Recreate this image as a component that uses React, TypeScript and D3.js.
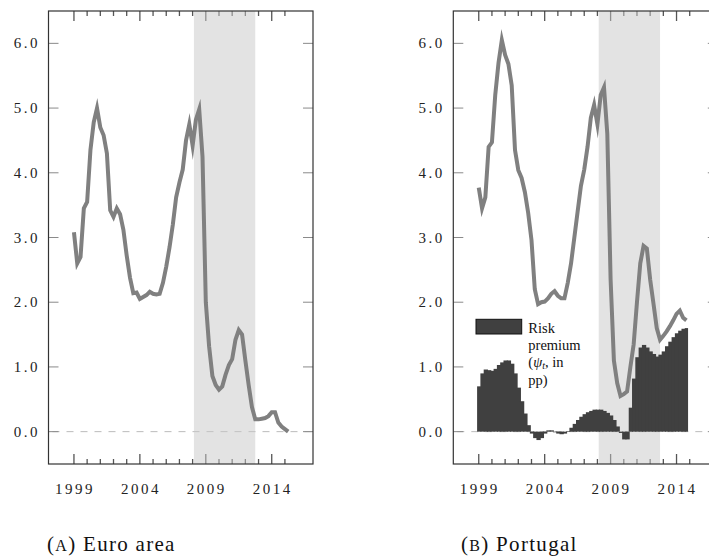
import React, { useEffect, useRef } from 'react';
import * as d3 from 'd3';

// quarterly values, first point is 1999Q1
const euroRate = [
  3.08, 2.6, 2.7, 3.45, 3.55, 4.35, 4.78, 5.0, 4.7, 4.58, 4.3, 3.42, 3.32, 3.45, 3.36, 3.12,
  2.72, 2.38, 2.14, 2.15, 2.05, 2.08, 2.11, 2.16, 2.13, 2.12, 2.13, 2.3, 2.55, 2.85, 3.2, 3.62,
  3.85, 4.05, 4.5, 4.75, 4.42, 4.82, 4.98, 4.25, 2.0, 1.32, 0.86, 0.72, 0.65, 0.7, 0.88, 1.03,
  1.12, 1.42, 1.57, 1.5, 1.1, 0.72, 0.38, 0.19, 0.19, 0.2, 0.21, 0.24, 0.3, 0.3, 0.14, 0.08,
  0.04, 0.0,
];

const portugalRate = [
  3.77, 3.45, 3.62, 4.4, 4.47, 5.2, 5.7, 6.05, 5.82, 5.68, 5.35, 4.35, 4.04, 3.92, 3.7, 3.38,
  2.96, 2.2, 1.97, 2.0, 2.01, 2.06, 2.13, 2.17, 2.1, 2.06, 2.06, 2.3, 2.6, 3.0, 3.4, 3.8,
  4.05, 4.4, 4.85, 5.05, 4.75, 5.2, 5.32, 4.6, 2.35, 1.1, 0.75, 0.55, 0.58, 0.62, 1.0, 1.35,
  2.0, 2.6, 2.87, 2.83, 2.35, 1.98, 1.6, 1.42, 1.48, 1.55, 1.63, 1.72, 1.82, 1.87, 1.76, 1.72,
];

const riskPremium = [
  0.7, 0.9, 0.96, 0.95, 0.94, 0.97, 1.03, 1.07, 1.1, 1.1, 1.05, 0.9, 0.68, 0.47, 0.28, 0.1,
  -0.03, -0.1, -0.13, -0.1, -0.03, 0.02, 0.02, -0.01, -0.03, -0.04, -0.03, 0.01, 0.06, 0.12, 0.18, 0.23,
  0.27, 0.3, 0.32, 0.34, 0.34, 0.34, 0.32, 0.29, 0.25, 0.18, 0.08, -0.02, -0.12, -0.12, 0.37, 0.82,
  1.15, 1.3, 1.34, 1.3, 1.24, 1.2, 1.16, 1.19, 1.24, 1.32, 1.39, 1.46, 1.52, 1.56, 1.59, 1.6,
];

const startYear = 1999;
const yTicks = [0, 1, 2, 3, 4, 5, 6];
const majorYears = [1999, 2004, 2009, 2014];
const minorYears = [2000, 2001, 2002, 2003, 2005, 2006, 2007, 2008, 2010, 2011, 2012, 2013, 2015];
const crisis = [2008.1, 2012.75];
const captions = ['Euro area', 'Portugal'];
const captionLetters = ['A', 'B'];

const width = 709;
const height = 558;
const frameW = 264.5;
const top = 11;
const bottom = 464;
const panelLefts = [48.5, 453.3];
const captionX = [47, 461];

const lineColor = '#808080';
const barColor = '#404040';
const tickFont = 'Liberation Serif, serif';

const App = () => {
  const ref = useRef(null);

  useEffect(() => {
    const svg = d3.select(ref.current);
    svg.selectAll('*').remove();

    panelLefts.forEach((left, p) => {
      const x = d3.scaleLinear().domain([1997.07, 2017.13]).range([left, left + frameW]);
      const y = d3.scaleLinear().domain([-0.5, 6.5]).range([bottom, top]);
      const date = i => startYear + i / 4;
      const g = svg.append('g');

      // zero line
      g.append('line')
        .attr('x1', left).attr('x2', left + frameW)
        .attr('y1', y(0)).attr('y2', y(0))
        .attr('stroke', '#bbb').attr('stroke-width', 1)
        .attr('stroke-dasharray', '7,7').attr('stroke-dashoffset', -4);

      // y ticks (both sides, inward)
      yTicks.forEach(t => {
        g.append('line').attr('x1', left).attr('x2', left + 10)
          .attr('y1', y(t)).attr('y2', y(t)).attr('stroke', '#8a8a8a').attr('stroke-width', 1);
        g.append('line').attr('x1', left + frameW - 10).attr('x2', left + frameW)
          .attr('y1', y(t)).attr('y2', y(t)).attr('stroke', '#8a8a8a').attr('stroke-width', 1);
        g.append('text')
          .attr('x', left - 8.5).attr('y', y(t) + 5)
          .attr('text-anchor', 'end')
          .attr('font-family', tickFont).attr('font-size', 15)
          .attr('letter-spacing', 2.5)
          .attr('fill', '#222')
          .text(d3.format('.1f')(t));
      });

      // x ticks top and bottom
      const xt = (yr, len) => {
        g.append('line').attr('x1', x(yr)).attr('x2', x(yr))
          .attr('y1', bottom).attr('y2', bottom - len).attr('stroke', '#555').attr('stroke-width', 1.3);
        g.append('line').attr('x1', x(yr)).attr('x2', x(yr))
          .attr('y1', top).attr('y2', top + len).attr('stroke', '#555').attr('stroke-width', 1.3);
      };
      majorYears.forEach(yr => xt(yr, 10));
      minorYears.forEach(yr => xt(yr, 5));
      majorYears.forEach(yr => {
        g.append('text')
          .attr('x', x(yr) + 1).attr('y', 494)
          .attr('text-anchor', 'middle')
          .attr('font-family', tickFont).attr('font-size', 15)
          .attr('letter-spacing', 2.5)
          .attr('fill', '#222')
          .text(yr);
      });

      // crisis shading
      g.append('rect')
        .attr('x', x(crisis[0])).attr('width', x(crisis[1]) - x(crisis[0]))
        .attr('y', top).attr('height', bottom - top)
        .attr('fill', '#c8c8c8').attr('opacity', 0.5);

      const step = x(startYear + 0.25) - x(startYear);

      if (p === 1) {
        g.append('g').selectAll('rect')
          .data(riskPremium)
          .join('rect')
          .attr('x', (d, i) => x(date(i)) - step / 2)
          .attr('width', (d, i) => (i === riskPremium.length - 1 ? step : step + 1))
          .attr('y', d => Math.min(y(d), y(0)))
          .attr('height', d => Math.abs(y(d) - y(0)))
          .attr('fill', barColor);
      }

      const rate = p === 0 ? euroRate : portugalRate;
      g.append('path')
        .datum(rate)
        .attr('d', d3.line<number>().x((d, i) => x(date(i))).y(d => y(d)))
        .attr('fill', 'none')
        .attr('stroke', lineColor)
        .attr('stroke-width', 4)
        .attr('stroke-linejoin', 'miter')
        .attr('stroke-miterlimit', 10);

      if (p === 1) {
        const lx = left + 22.7;
        const ly = 319.3;
        g.append('rect').attr('x', lx).attr('y', ly).attr('width', 45.7).attr('height', 14.7)
          .attr('fill', barColor).attr('stroke', '#111').attr('stroke-width', 1);
        const tx = lx + 52.3;
        const lf = 'Liberation Serif, serif';
        const line = (yy) => g.append('text').attr('font-family', lf).attr('font-size', 14.5)
          .attr('fill', '#111').attr('x', tx).attr('y', yy);
        line(333).text('Risk');
        line(350).text('premium');
        const t3 = line(367);
        t3.append('tspan').text('(');
        t3.append('tspan').attr('font-style', 'italic').text('ψ');
        t3.append('tspan').attr('font-style', 'italic').attr('font-size', 10).attr('dy', 1.5).text('t');
        t3.append('tspan').attr('dy', -1.5).text(', in');
        line(385).text('pp)');
      }

      // frame
      g.append('rect')
        .attr('x', left).attr('y', top).attr('width', frameW).attr('height', bottom - top)
        .attr('fill', 'none').attr('stroke', '#333').attr('stroke-width', 1.2);

      // caption
      const cap = g.append('text')
        .attr('x', captionX[p]).attr('y', 551)
        .attr('font-family', 'Liberation Serif, serif').attr('font-size', 21)
        .attr('letter-spacing', 1.3)
        .attr('fill', '#111');
      cap.append('tspan').text('(');
      cap.append('tspan').attr('font-size', 16).text(captionLetters[p]);
      cap.append('tspan').text(') ' + captions[p]);
    });
  }, []);

  return (
    <svg
      ref={ref}
      width={width}
      height={height}
      style={{ position: 'absolute', left: 0, top: 0, background: '#fff' }}
    />
  );
};

export default App;
